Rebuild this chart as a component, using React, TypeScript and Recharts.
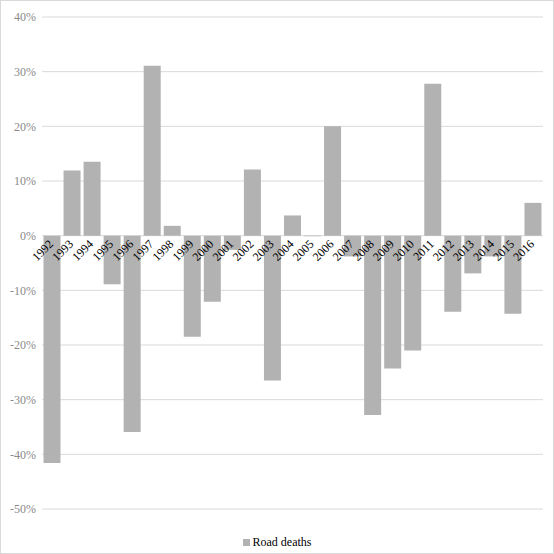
import { BarChart, Bar, XAxis, YAxis, CartesianGrid, Legend, LabelList } from 'recharts';

const years = [
  '1992', '1993', '1994', '1995', '1996', '1997', '1998', '1999', '2000', '2001',
  '2002', '2003', '2004', '2005', '2006', '2007', '2008', '2009', '2010', '2011',
  '2012', '2013', '2014', '2015', '2016',
];

const roadDeaths = [
  -0.416, 0.119, 0.135, -0.089, -0.359, 0.311, 0.018, -0.185, -0.121, -0.026,
  0.121, -0.265, 0.037, -0.001, 0.2, -0.038, -0.328, -0.243, -0.21, 0.278,
  -0.139, -0.069, -0.038, -0.143, 0.06,
];

const yTicks = [-0.5, -0.4, -0.3, -0.2, -0.1, 0, 0.1, 0.2, 0.3, 0.4];

const data = years.map((year, i) => ({ year, value: roadDeaths[i] }));

const FONT = '"Liberation Serif", "Times New Roman", serif';

function formatPercent(value: number): string {
  return `${Math.round(value * 100)}%`;
}

// year labels sit on the zero line, not at the bottom of the plot
function YearLabel(props: any) {
  const { x, y, width, height, index, value } = props;
  const top = Number(y);
  const h = Number(height);
  const zero = value >= 0 ? Math.max(top, top + h) : Math.min(top, top + h);
  const ax = Number(x) + Number(width) / 2 + 2;
  const ay = zero + 9;
  return (
    <text
      x={ax}
      y={ay}
      textAnchor="end"
      transform={`rotate(-45 ${ax} ${ay})`}
      fontFamily={FONT}
      fontSize={12}
      fill="#000"
    >
      {years[index]}
    </text>
  );
}

function LegendContent() {
  return (
    <div
      style={{
        height: 44,
        display: 'flex',
        justifyContent: 'center',
        alignItems: 'center',
        paddingTop: 22,
        paddingLeft: 10,
        boxSizing: 'border-box',
        fontFamily: FONT,
        fontSize: 12,
        color: '#000',
      }}
    >
      <span style={{ width: 7, height: 7, background: '#b2b2b2', marginRight: 3 }} />
      Road deaths
    </div>
  );
}

export default function App() {
  return (
    <div
      style={{
        position: 'absolute',
        top: 0,
        left: 0,
        width: 554,
        height: 554,
        border: '1px solid #d9d9d9',
        boxSizing: 'border-box',
        background: '#fff',
      }}
    >
      <BarChart
        width={552}
        height={552}
        data={data}
        margin={{ top: 16, right: 10, left: 0, bottom: 0 }}
        barCategoryGap="7.5%"
      >
        <CartesianGrid vertical={false} stroke="#d9d9d9" />
        <XAxis dataKey="year" hide />
        <YAxis
          domain={[-0.5, 0.4]}
          ticks={yTicks}
          tickFormatter={formatPercent}
          axisLine={false}
          tickLine={false}
          tickSize={4}
          tickMargin={2}
          width={41}
          tick={{ fontSize: 12, fill: '#8a8a8a', fontFamily: FONT }}
          interval={0}
        />
        <Legend verticalAlign="bottom" height={44} content={<LegendContent />} />
        <Bar dataKey="value" fill="#b2b2b2" isAnimationActive={false}>
          <LabelList dataKey="value" content={<YearLabel />} />
        </Bar>
      </BarChart>
    </div>
  );
}
